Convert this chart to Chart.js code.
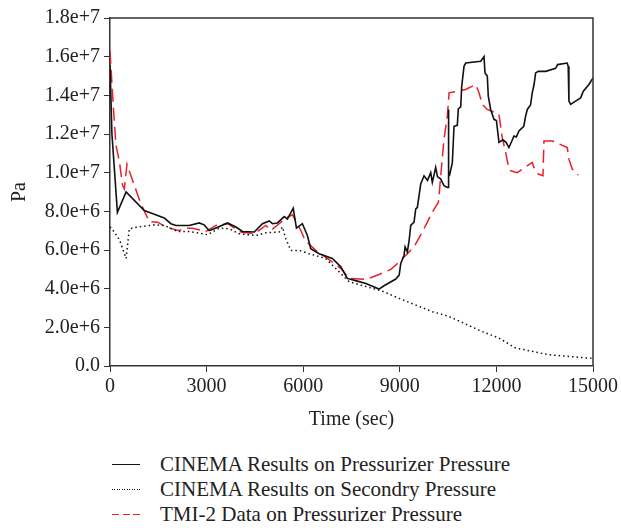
<!DOCTYPE html>
<html>
<head>
<meta charset="utf-8">
<script src="https://cdn.jsdelivr.net/npm/chart.js@4.4.1/dist/chart.umd.min.js"></script>
<style>
  body { margin: 0; background: #fff; font-family: "Liberation Serif", serif; }
  #wrap { position: relative; width: 621px; height: 528px; }
  #legend { position: absolute; left: 112px; top: 452px; color: #222; font-size: 21px; }
  .item { height: 25px; line-height: 25px; display: flex; align-items: center; }
  .swatch { width: 28px; height: 1.5px; margin-right: 20px; }
</style>
</head>
<body>
<div id="wrap">
  <canvas id="chart" width="621" height="440"></canvas>
  <div id="legend"></div>
</div>
<script>
// time (sec) / pressure (1e6 Pa)
const cinemaPzr = [
  [0, 15.6], [60, 12.0], [230, 7.95], [500, 9.0], [1065, 8.04], [1375, 7.85], [1685, 7.66],
  [1890, 7.36], [2050, 7.27], [2460, 7.27], [2770, 7.4], [2925, 7.3], [3080, 7.0], [3235, 7.1],
  [3650, 7.4], [3910, 7.19], [4115, 6.96], [4480, 6.93], [4735, 7.36], [4945, 7.5], [5045, 7.36],
  [5200, 7.4], [5410, 7.73], [5510, 7.6], [5690, 8.16], [5790, 7.13], [5975, 7.36], [6130, 6.75],
  [6235, 6.07], [6495, 5.81], [6905, 5.56], [7170, 5.13], [7370, 4.53], [7685, 4.39], [7945, 4.27],
  [8355, 3.98], [8510, 4.15], [8875, 4.5], [8980, 4.7], [9030, 5.3], [9132, 5.73], [9165, 6.16],
  [9235, 5.9], [9290, 6.5], [9340, 7.27], [9442, 7.44], [9495, 8.13], [9545, 8.2], [9650, 9.41],
  [9753, 9.84], [9860, 9.6], [9960, 10.0], [10010, 9.5], [10115, 10.27], [10170, 9.8], [10271, 9.67],
  [10373, 9.33], [10476, 9.24], [10507, 9.24], [10510, 13.27], [10520, 10.0], [10550, 9.9],
  [10631, 10.5], [10684, 12.4], [10786, 12.45], [10817, 13.3], [10892, 13.4], [10922, 14.45],
  [10994, 15.5], [11047, 15.67], [11512, 15.76], [11615, 16.0], [11646, 15.16], [11717, 15.0],
  [11748, 13.96], [11822, 13.27], [11925, 12.76], [12000, 12.7], [12080, 11.57], [12200, 11.7],
  [12300, 11.57], [12390, 11.3], [12470, 11.6], [12545, 11.9], [12620, 11.85], [12700, 12.16],
  [12850, 12.4], [12908, 12.93], [12960, 13.27], [13060, 13.5], [13113, 14.13], [13170, 14.56],
  [13218, 15.16], [13300, 15.24], [13529, 15.24], [13839, 15.4], [13900, 15.59], [14199, 15.67],
  [14230, 15.5], [14252, 13.7], [14305, 13.53], [14460, 13.7], [14615, 13.87], [14700, 14.21],
  [14873, 14.56], [15000, 14.9]
];

const cinemaSec = [
  [0, 7.2], [150, 6.9], [300, 6.5], [500, 5.56], [600, 7.1], [857, 7.19], [1375, 7.3], [1685, 7.27],
  [2098, 6.96], [2460, 6.96], [3030, 6.79], [3390, 7.13], [3700, 7.1], [4010, 6.84], [4530, 6.75],
  [4840, 6.89], [5253, 6.93], [5357, 7.19], [5460, 6.58], [5616, 5.98], [5874, 5.98], [6185, 5.81],
  [6700, 5.56], [7218, 4.7], [7425, 4.36], [8460, 3.87], [8977, 3.5], [9495, 3.15], [10010, 2.81],
  [10530, 2.56], [11562, 1.78], [12080, 1.44], [12598, 0.93], [13632, 0.58], [14873, 0.41], [15000, 0.4]
];

const tmiPzr = [
  [0, 16.3], [100, 13.5], [186, 11.4], [290, 10.6], [390, 9.33], [445, 9.16], [527, 10.44],
  [650, 9.84], [940, 8.47], [1220, 7.47], [1478, 7.44], [1737, 7.19], [2150, 7.0], [2305, 7.13],
  [2563, 7.13], [2979, 6.96], [3290, 7.27], [3650, 7.36], [4065, 6.93], [4480, 6.84], [4840, 7.27],
  [4996, 7.01], [5253, 7.36], [5460, 7.65], [5666, 7.82], [5927, 7.01], [6060, 6.5], [6390, 5.98],
  [6805, 5.5], [7170, 5.04], [7425, 4.53], [7945, 4.48], [8355, 4.73], [8720, 5.0], [8977, 5.37],
  [9287, 5.9], [9442, 6.16], [9700, 6.93], [9855, 7.44], [10011, 7.96], [10198, 8.47], [10220, 8.81],
  [10271, 9.84], [10373, 11.73], [10476, 12.93], [10530, 14.13], [10786, 14.21], [11047, 14.3],
  [11357, 14.56], [11460, 14.13], [11562, 13.53], [11717, 13.27], [11977, 13.1], [12080, 13.0],
  [12183, 11.8], [12288, 11.04], [12390, 10.19], [12443, 10.1], [12648, 10.0], [13113, 10.53],
  [13166, 10.27], [13300, 9.93], [13446, 9.84], [13477, 11.64], [13735, 11.64], [14200, 11.3],
  [14252, 10.7], [14355, 10.19], [14541, 9.88]
];

const seriesNames = [
  'CINEMA Results on Pressurizer Pressure',
  'CINEMA Results on Secondry Pressure',
  'TMI-2 Data on Pressurizer Pressure'
];

const toPts = arr => arr.map(p => ({ x: p[0], y: p[1] * 1e6 }));
const FONT = { family: '"Liberation Serif", serif', size: 20 };

// top + right frame lines
const frame = {
  id: 'frame',
  afterDraw(chart) {
    const { ctx, chartArea: a } = chart;
    ctx.save();
    ctx.strokeStyle = '#333';
    ctx.lineWidth = 1.5;
    ctx.beginPath();
    ctx.moveTo(a.left, a.top);
    ctx.lineTo(a.right, a.top);
    ctx.lineTo(a.right, a.bottom);
    ctx.stroke();
    ctx.restore();
  }
};

const chart = new Chart(document.getElementById('chart'), {
  type: 'line',
  data: {
    datasets: [
      { label: seriesNames[0], data: toPts(cinemaPzr), borderColor: '#111', borderWidth: 1.6 },
      { label: seriesNames[1], data: toPts(cinemaSec), borderColor: '#111', borderWidth: 1.5, borderDash: [1.5, 3] },
      { label: seriesNames[2], data: toPts(tmiPzr), borderColor: '#e8202a', borderWidth: 1.5, borderDash: [13, 6] }
    ]
  },
  options: {
    responsive: false,
    animation: false,
    parsing: false,
    elements: { point: { radius: 0 }, line: { tension: 0, fill: false } },
    layout: { padding: { left: 4, right: 27, top: 18, bottom: 4 } },
    plugins: { legend: { display: false }, tooltip: { enabled: false } },
    scales: {
      x: {
        type: 'linear', min: 0, max: 15000,
        ticks: { stepSize: 3000, color: '#222', font: FONT, padding: 3, maxRotation: 0, callback: v => String(v) },
        grid: { drawOnChartArea: false, tickLength: 6, color: '#333' },
        border: { color: '#333', width: 1.5 },
        title: { display: true, text: 'Time (sec)', color: '#222', font: FONT, padding: { top: 6, bottom: 4 } }
      },
      y: {
        min: 0, max: 1.8e7,
        afterFit: s => { s.width = 106; },
        ticks: {
          stepSize: 2e6, color: '#222', font: FONT, padding: 4,
          callback: v => v === 0 ? '0.0' : v.toExponential(1)
        },
        grid: { drawOnChartArea: false, tickLength: 6, color: '#333' },
        border: { color: '#333', width: 1.5 },
        title: { display: true, text: 'Pa', color: '#222', font: FONT }
      }
    }
  },
  plugins: [frame]
});

// legend below the chart
const legendStyles = [
  '#111',
  'repeating-linear-gradient(90deg, #111 0 1px, transparent 1px 2.5px)',
  'repeating-linear-gradient(90deg, #e8202a 0 7px, transparent 7px 10.5px)'
];
const legend = document.getElementById('legend');
chart.data.datasets.forEach((ds, i) => {
  const row = document.createElement('div');
  row.className = 'item';
  const sw = document.createElement('span');
  sw.className = 'swatch';
  sw.style.background = legendStyles[i];
  const txt = document.createElement('span');
  txt.textContent = ds.label;
  row.appendChild(sw);
  row.appendChild(txt);
  legend.appendChild(row);
});
</script>
</body>
</html>
